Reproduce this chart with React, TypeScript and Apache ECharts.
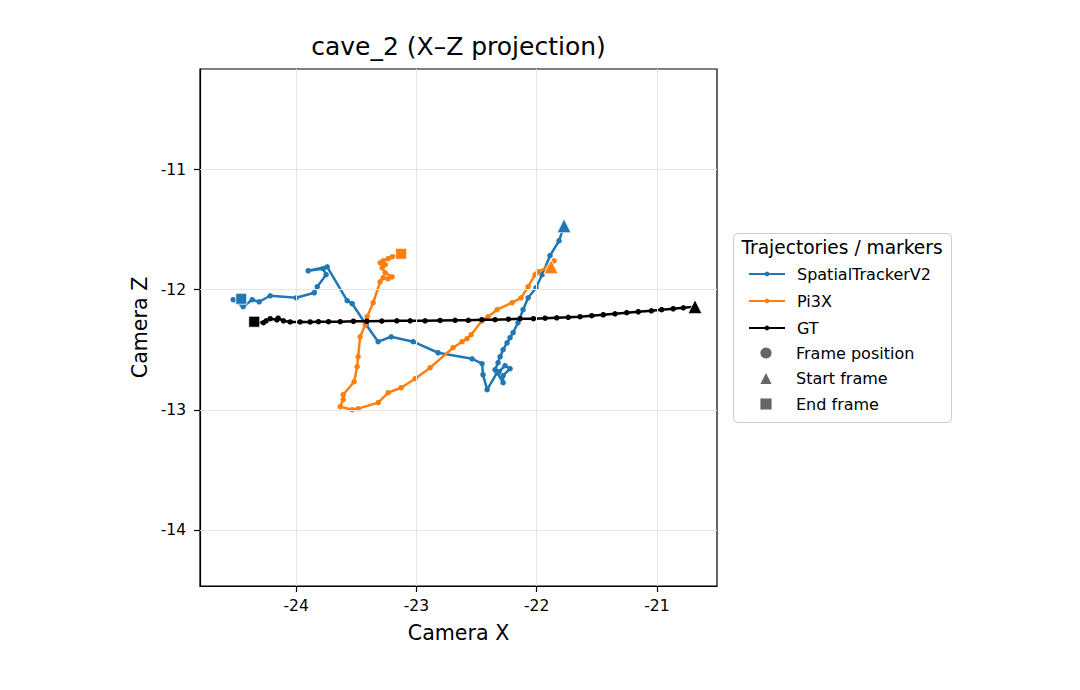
import { useEffect, useRef } from "react";
import * as echarts from "echarts";

// ---- data ----
const stX = [-21.772, -21.814, -21.889, -21.955, -22.005, -22.071, -22.113, -22.155, -22.196, -22.221, -22.246, -22.279, -22.304, -22.321, -22.346, -22.313, -22.263, -22.221, -22.279, -22.279, -22.329, -22.412, -22.446, -22.454, -22.537, -22.82, -23.027, -23.21, -23.318, -23.418, -23.534, -23.576, -23.742, -23.9, -23.776, -23.751, -23.825, -23.85, -24.0, -24.216, -24.308, -24.366, -24.441, -24.524, -24.457];
const stZ = [-11.468, -11.593, -11.717, -11.875, -11.983, -12.067, -12.166, -12.274, -12.357, -12.399, -12.441, -12.499, -12.557, -12.607, -12.665, -12.682, -12.632, -12.657, -12.715, -12.773, -12.69, -12.831, -12.707, -12.615, -12.574, -12.524, -12.432, -12.391, -12.432, -12.291, -12.116, -12.091, -11.809, -11.842, -11.825, -11.875, -11.975, -12.025, -12.067, -12.05, -12.1, -12.083, -12.141, -12.083, -12.075];

const piX = [-21.88, -21.855, -21.914, -21.988, -22.013, -22.071, -22.13, -22.204, -22.329, -22.404, -22.454, -22.545, -22.579, -22.62, -22.695, -22.886, -23.011, -23.127, -23.235, -23.318, -23.485, -23.534, -23.634, -23.609, -23.609, -23.518, -23.493, -23.485, -23.468, -23.426, -23.41, -23.36, -23.302, -23.277, -23.235, -23.202, -23.26, -23.285, -23.26, -23.302, -23.277, -23.235, -23.202, -23.127];
const piZ = [-11.809, -11.759, -11.817, -11.85, -11.875, -11.975, -12.067, -12.108, -12.166, -12.224, -12.258, -12.374, -12.407, -12.432, -12.482, -12.648, -12.74, -12.815, -12.856, -12.939, -12.989, -12.998, -12.973, -12.914, -12.873, -12.765, -12.64, -12.557, -12.391, -12.291, -12.224, -12.108, -11.934, -11.9, -11.909, -11.892, -11.859, -11.817, -11.792, -11.776, -11.759, -11.742, -11.726, -11.701];

const gtX = [-20.683, -20.78, -20.864, -20.96, -21.046, -21.155, -21.251, -21.348, -21.446, -21.542, -21.639, -21.737, -21.833, -21.93, -22.027, -22.138, -22.235, -22.346, -22.456, -22.568, -22.678, -22.803, -22.928, -23.052, -23.163, -23.288, -23.412, -23.524, -23.634, -23.731, -23.815, -23.884, -23.967, -24.05, -24.106, -24.15, -24.16, -24.216, -24.25, -24.272, -24.349];
const gtZ = [-12.141, -12.15, -12.158, -12.166, -12.175, -12.183, -12.191, -12.2, -12.208, -12.216, -12.224, -12.229, -12.233, -12.237, -12.241, -12.241, -12.245, -12.249, -12.249, -12.254, -12.254, -12.255, -12.258, -12.258, -12.258, -12.26, -12.262, -12.262, -12.266, -12.266, -12.266, -12.268, -12.268, -12.268, -12.258, -12.237, -12.25, -12.241, -12.258, -12.274, -12.266];

const xTicks = [-24, -23, -22, -21];
const zTicks = [-14, -13, -12, -11];
const trajectoryNames = ["SpatialTrackerV2", "Pi3X", "GT"];
const markerNames = ["Frame position", "Start frame", "End frame"];

const FONT = "'DejaVu Sans', sans-serif";

function pairs(xs: number[], zs: number[]) {
  return xs.map((x, i) => [x, zs[i]]);
}

function trajectory(name: string, color: string, xs: number[], zs: number[], z: number) {
  const last = xs.length - 1;
  return {
    name,
    type: "line",
    data: pairs(xs, zs),
    symbol: "circle",
    symbolSize: 5.5,
    showSymbol: true,
    showAllSymbol: true,
    z,
    lineStyle: { color, width: 2.5 },
    itemStyle: { color },
    emphasis: { disabled: true },
    markPoint: {
      silent: true,
      label: { show: false },
      itemStyle: { color, borderColor: "#ffffff", borderWidth: 0.8 },
      data: [
        { coord: [xs[0], zs[0]], symbol: "triangle", symbolSize: 14 },
        { coord: [xs[last], zs[last]], symbol: "rect", symbolSize: 11 },
      ],
    },
  };
}

function markerEntry(name: string, symbol: string) {
  return {
    name,
    type: "line",
    data: [],
    symbol,
    itemStyle: { color: "#666666" },
    lineStyle: { opacity: 0, width: 0 },
  };
}

export default function App() {
  const ref = useRef<HTMLDivElement>(null);

  useEffect(() => {
    const chart = echarts.init(ref.current!, null, { renderer: "svg" });
    const legendBase = {
      orient: "vertical",
      left: 748,
      itemWidth: 36,
      itemGap: 11,
      selectedMode: false,
      padding: 0,
      textStyle: { fontFamily: FONT, fontSize: 16, color: "#000", padding: [0, 0, 0, 7] },
    };
    chart.setOption({
      animation: false,
      backgroundColor: "#ffffff",
      textStyle: { fontFamily: FONT },
      title: {
        text: "cave_2 (X–Z projection)",
        left: 458.5,
        top: 34,
        textAlign: "center",
        padding: 0,
        textStyle: { fontFamily: FONT, fontSize: 25, fontWeight: "normal", color: "#000" },
      },
      grid: {
        left: 200,
        top: 69,
        width: 517,
        height: 517,
        show: true,
        borderColor: "#000",
        borderWidth: 1.2,
        backgroundColor: "transparent",
        outerBoundsMode: "none",
      },
      xAxis: {
        type: "value",
        min: -24.8,
        max: -20.5,
        name: "Camera X",
        nameLocation: "middle",
        nameGap: 36,
        nameTextStyle: { fontFamily: FONT, fontSize: 20.6, color: "#000" },
        axisLine: { show: true, onZero: false, lineStyle: { color: "#000", width: 1.2 } },
        axisTick: { show: true, customValues: xTicks, length: 6, lineStyle: { color: "#000", width: 1.2 } },
        axisLabel: { customValues: xTicks, margin: 12, fontFamily: FONT, fontSize: 15.5, color: "#000", formatter: (v: number) => String(v) },
        splitLine: { show: false },
      },
      yAxis: {
        type: "value",
        min: -14.464,
        max: -10.164,
        name: "Camera Z",
        nameLocation: "middle",
        nameGap: 50,
        nameTextStyle: { fontFamily: FONT, fontSize: 20.6, color: "#000" },
        axisLine: { show: true, onZero: false, lineStyle: { color: "#000", width: 1.2 } },
        axisTick: { show: true, customValues: zTicks, length: 6, lineStyle: { color: "#000", width: 1.2 } },
        axisLabel: { customValues: zTicks, margin: 14, fontFamily: FONT, fontSize: 15.5, color: "#000", formatter: (v: number) => String(v) },
        splitLine: { show: false },
      },
      legend: [
        { ...legendBase, data: trajectoryNames, top: 266, itemHeight: 6 },
        { ...legendBase, data: markerNames, top: 345, itemHeight: 14, itemGap: 9.5 },
      ],
      graphic: [
        {
          type: "rect",
          z: 1,
          shape: { x: 733.5, y: 233.5, width: 218, height: 189, r: 4 },
          style: { fill: "#ffffff", stroke: "#cccccc", lineWidth: 1 },
        },
        {
          type: "text",
          z: 2,
          x: 842,
          y: 247,
          style: {
            text: "Trajectories / markers",
            fontFamily: FONT,
            fontSize: 18.6,
            fill: "#000",
            textAlign: "center",
            textVerticalAlign: "middle",
          },
        },
      ],
      series: [
        {
          name: "gridlines",
          type: "line",
          data: [],
          z: 0,
          silent: true,
          markLine: {
            silent: true,
            symbol: ["none", "none"],
            label: { show: false },
            lineStyle: { color: "#e6e6e6", width: 1, type: "solid" },
            data: [...xTicks.map((v) => ({ xAxis: v })), ...zTicks.map((v) => ({ yAxis: v }))],
          },
        },
        trajectory("SpatialTrackerV2", "#1f77b4", stX, stZ, 2),
        trajectory("Pi3X", "#ff7f0e", piX, piZ, 3),
        trajectory("GT", "#000000", gtX, gtZ, 4),
        markerEntry("Frame position", "circle"),
        markerEntry("Start frame", "triangle"),
        markerEntry("End frame", "rect"),
      ],
    });
    return () => chart.dispose();
  }, []);

  return (
    <div
      ref={ref}
      style={{ position: "fixed", left: 0, top: 0, width: 1080, height: 690, background: "#fff" }}
    />
  );
}
